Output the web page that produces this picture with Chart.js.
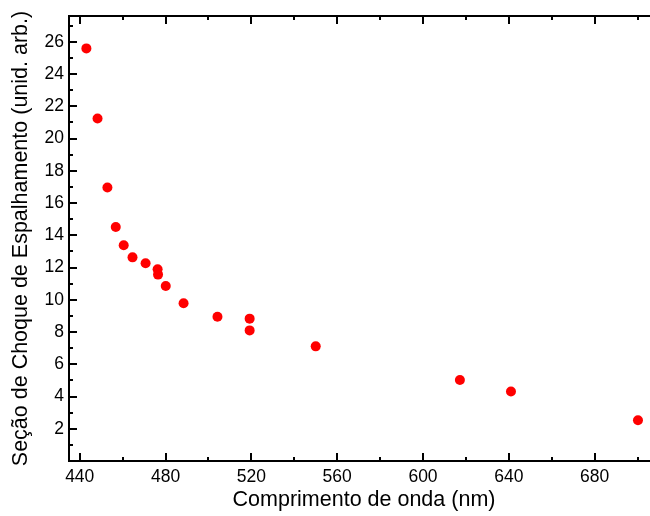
<!DOCTYPE html>
<html>
<head>
<meta charset="utf-8">
<script src="https://cdn.jsdelivr.net/npm/chart.js@4/dist/chart.umd.min.js"></script>
<style>
  html, body { margin: 0; padding: 0; background: #fff; overflow: hidden; }
  #wrap { width: 664px; height: 516px; }
</style>
</head>
<body>
<div id="wrap"><canvas id="c" width="664" height="516"></canvas></div>
<script>
// ---- data ----
const wavelengths = [443.1, 448.3, 452.9, 456.8, 460.5, 464.6, 470.7, 476.3, 476.5, 480.1, 488.4, 504.2, 519.2, 519.2, 550.0, 617.2, 641.0, 700.2];
const crossSections = [25.59, 21.24, 16.96, 14.51, 13.38, 12.63, 12.26, 11.89, 11.56, 10.85, 9.78, 8.95, 8.83, 8.10, 7.11, 5.02, 4.31, 2.53];

const xMajorTicks = [440, 480, 520, 560, 600, 640, 680];
const xMinorTicks = [460, 500, 540, 580, 620, 660, 700];
const yMajorTicks = [2, 4, 6, 8, 10, 12, 14, 16, 18, 20, 22, 24, 26];
const yMinorTicks = [1, 3, 5, 7, 9, 11, 13, 15, 17, 19, 21, 23, 25, 27];

const xTitle = 'Comprimento de onda (nm)';
const yTitle = 'Seção de Choque de Espalhamento (unid. arb.)';

const points = wavelengths.map((w, i) => ({ x: w, y: crossSections[i] }));

const FONT = '"Liberation Sans", Arial, sans-serif';

const framePlugin = {
  id: 'frame',
  afterDraw(chart) {
    const { ctx, chartArea: a, scales } = chart;
    const xs = scales.x, ys = scales.y;
    ctx.save();
    ctx.strokeStyle = '#000';
    ctx.lineWidth = 2;
    ctx.lineCap = 'butt';
    ctx.beginPath();
    ctx.moveTo(a.left, a.top); ctx.lineTo(a.right, a.top);
    ctx.moveTo(a.left, a.bottom); ctx.lineTo(a.right, a.bottom);
    ctx.moveTo(a.left, a.top - 1); ctx.lineTo(a.left, a.bottom + 1);
    ctx.moveTo(a.right, a.top - 1); ctx.lineTo(a.right, a.bottom + 1);
    ctx.stroke();
    const MAJ = 8, MIN = 4;
    ctx.beginPath();
    const xt = (v, len) => {
      const p = Math.round(xs.getPixelForValue(v));
      ctx.moveTo(p, a.bottom); ctx.lineTo(p, a.bottom - len);
      ctx.moveTo(p, a.top); ctx.lineTo(p, a.top + len);
    };
    const yt = (v, len) => {
      const p = Math.round(ys.getPixelForValue(v));
      ctx.moveTo(a.left, p); ctx.lineTo(a.left + len, p);
      ctx.moveTo(a.right, p); ctx.lineTo(a.right - len, p);
    };
    xMajorTicks.forEach(v => xt(v, MAJ));
    xMinorTicks.forEach(v => xt(v, MIN));
    yMajorTicks.forEach(v => yt(v, MAJ));
    yMinorTicks.forEach(v => yt(v, MIN));
    ctx.stroke();
    ctx.restore();
  }
};

new Chart(document.getElementById('c'), {
  type: 'scatter',
  data: {
    datasets: [{
      data: points,
      backgroundColor: '#ff0000',
      borderColor: '#ff0000',
      borderWidth: 0,
      pointRadius: 5,
      pointHoverRadius: 5
    }]
  },
  options: {
    responsive: false,
    animation: false,
    events: [],
    layout: { padding: { top: 16, right: 1, left: 0, bottom: 0 } },
    plugins: { legend: { display: false }, tooltip: { enabled: false } },
    scales: {
      x: {
        type: 'linear',
        min: 435,
        max: 710,
        grid: { display: false, drawTicks: false },
        border: { display: false },
        afterBuildTicks: (s) => { s.ticks = xMajorTicks.map(v => ({ value: v })); },
        afterFit: (s) => { s.height = 55; s.paddingLeft = 0; s.paddingRight = 0; },
        ticks: {
          color: '#000',
          font: { family: FONT, size: 17.5 },
          padding: 6,
          maxRotation: 0,
          autoSkip: false
        },
        title: {
          display: true,
          text: xTitle,
          color: '#000',
          font: { family: FONT, size: 21.5, lineHeight: 1.2 },
          padding: { top: 0, bottom: 3 }
        }
      },
      y: {
        type: 'linear',
        min: 0,
        max: 27.6,
        grid: { display: false, drawTicks: false },
        border: { display: false },
        afterBuildTicks: (s) => { s.ticks = yMajorTicks.map(v => ({ value: v })); },
        afterFit: (s) => { s.width = 69; s.paddingTop = 0; s.paddingBottom = 0; },
        ticks: {
          color: '#000',
          font: { family: FONT, size: 17.5 },
          padding: 5,
          autoSkip: false
        },
        title: {
          display: true,
          text: yTitle,
          color: '#000',
          font: { family: FONT, size: 21.5, lineHeight: 1.2 },
          padding: { top: 8, bottom: 0 }
        }
      }
    }
  },
  plugins: [framePlugin]
});
</script>
</body>
</html>
